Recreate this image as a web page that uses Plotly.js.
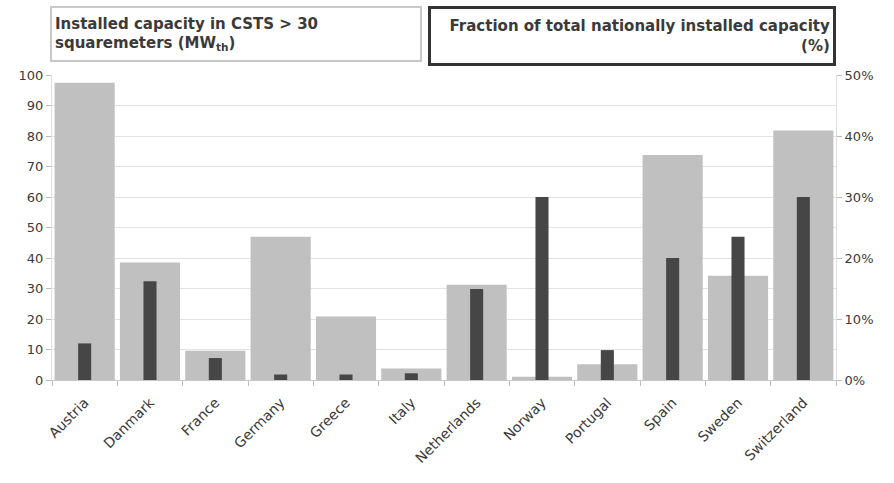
<!DOCTYPE html>
<html><head><meta charset="utf-8">
<script src="https://cdn.plot.ly/plotly-3.0.1.min.js"></script>
<style>html,body{margin:0;padding:0;background:#fff}#chart{width:894px;height:483px}</style>
</head><body><div id="chart"></div>
<script>
var countries = ["Austria","Danmark","France","Germany","Greece","Italy","Netherlands","Norway","Portugal","Spain","Sweden","Switzerland"];
var capacityMW = [97.5, 38.5, 9.6, 47, 20.8, 3.8, 31.2, 1.1, 5.2, 73.8, 34.2, 81.8];
var fractionPct = [6.0, 16.2, 3.6, 0.9, 0.9, 1.1, 14.9, 30, 4.9, 20, 23.5, 30];
var leftTicks = [0,10,20,30,40,50,60,70,80,90,100];
var rightTicks = [0,10,20,30,40,50];
var rightTickLabels = ["0%","10%","20%","30%","40%","50%"];
var seriesNames = ["Installed capacity in CSTS > 30<br>squaremeters (MW<sub>th</sub>)", "Fraction of total nationally installed capacity<br>(%)"];

var font = {family: "DejaVu Sans, Liberation Sans, Arial, sans-serif", size: 13, color: "#3a3a3a"};
var xFont = {family: "DejaVu Sans, Liberation Sans, Arial, sans-serif", size: 14, color: "#3a3a3a"};
var boxFont = {family: "DejaVu Sans, Liberation Sans, Arial, sans-serif", size: 15, color: "#3a3a3a"};
var traces = [
  {type:"bar", x:countries, y:capacityMW, name:seriesNames[0], width:0.92,
   marker:{color:"#c0c0c0", line:{width:0}}, yaxis:"y", hoverinfo:"x+y"},
  {type:"bar", x:countries, y:fractionPct, name:seriesNames[1], width:0.2,
   marker:{color:"#464646", line:{width:0}}, yaxis:"y2", hoverinfo:"x+y"}
];
var layout = {
  width:894, height:483,
  margin:{l:52, r:58, t:75, b:103},
  paper_bgcolor:"#fff", plot_bgcolor:"#fff",
  barmode:"overlay", showlegend:false, font:font,
  xaxis:{type:"category", tickangle:-45, tickson:"boundaries", ticks:"outside", ticklen:5,
         tickcolor:"#bbb", showline:true, linecolor:"#c8c8c8", linewidth:1, showgrid:false,
         ticklabelstandoff:8, tickfont:xFont},
  yaxis:{range:[0,100], tickmode:"array", tickvals:leftTicks, ticks:"outside", ticklen:5, tickcolor:"#bbb",
         showgrid:true, gridcolor:"#e2e2e2", gridwidth:1, showline:true, linecolor:"#e0e0e0",
         zeroline:false, tickfont:font},
  yaxis2:{range:[0,50], tickmode:"array", tickvals:rightTicks, ticktext:rightTickLabels,
          overlaying:"y", side:"right",
          ticks:"outside", ticklen:5, tickcolor:"#bbb", showgrid:false, showline:true,
          linecolor:"#e0e0e0", zeroline:false, tickfont:font},
  annotations:[
    {xref:"paper", yref:"paper", x:-0.003, y:1.227, xanchor:"left", yanchor:"top",
     text:"<b>"+seriesNames[0]+"</b>", showarrow:false, align:"left", valign:"middle",
     width:362, height:46, bordercolor:"#c8c8c8", borderwidth:2, borderpad:3,
     font:boxFont},
    {xref:"paper", yref:"paper", x:1, y:1.227, xanchor:"right", yanchor:"top",
     text:"<b>"+seriesNames[1]+"</b>", showarrow:false, align:"right", valign:"middle",
     width:396, height:48, bordercolor:"#333", borderwidth:3, borderpad:3,
     font:boxFont}
  ]
};
Plotly.newPlot("chart", traces, layout, {displayModeBar:false, staticPlot:true});
</script></body></html>
